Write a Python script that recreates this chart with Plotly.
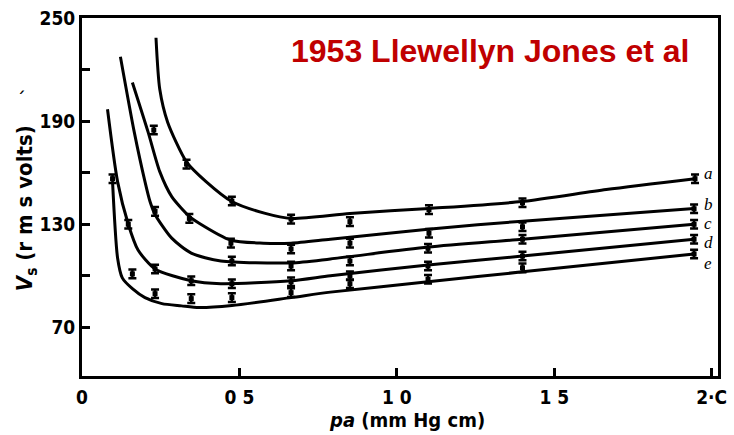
import plotly.graph_objects as go

# ---- data ----
curve_names = ["a", "b", "c", "d", "e"]

a_x = [0.235, 0.247, 0.272, 0.332, 0.394, 0.476, 0.582, 0.664, 0.851, 1.102, 1.396, 1.665, 1.947]
a_v = [238.5, 208.5, 189.4, 166.3, 154.8, 143.2, 136.3, 133.4, 136.3, 139.2, 143.2, 150.2, 156.5]

b_x = [0.160, 0.210, 0.247, 0.285, 0.341, 0.372, 0.473, 0.576, 0.664, 0.789, 1.099, 1.399, 1.944]
b_v = [212.5, 183.6, 160.6, 146.1, 134.6, 130.6, 120.7, 119.0, 119.0, 121.3, 127.1, 131.8, 139.2]

c_x = [0.122, 0.166, 0.200, 0.216, 0.232, 0.285, 0.347, 0.441, 0.664, 0.789, 1.099, 1.399, 1.944]
c_v = [227.5, 183.6, 154.8, 143.2, 135.7, 121.9, 113.2, 108.6, 107.5, 109.8, 116.7, 121.3, 130.0]

d_x = [0.081, 0.113, 0.147, 0.178, 0.232, 0.347, 0.441, 0.664, 0.789, 1.099, 1.399, 1.944]
d_v = [196.9, 154.8, 130.0, 115.0, 104.0, 97.1, 95.4, 97.1, 100.0, 106.3, 111.5, 121.3]

e_x = [0.097, 0.113, 0.128, 0.160, 0.200, 0.254, 0.316, 0.372, 0.476, 0.664, 0.789, 1.099, 1.399, 1.944]
e_v = [154.8, 110.4, 98.8, 92.5, 87.3, 83.8, 82.5, 81.5, 82.7, 87.3, 90.5, 96.5, 102.3, 112.7]

# measured points with error bars
a_px = [0.228, 0.332, 0.476, 0.664, 0.851, 1.102, 1.399, 1.947]
a_pv = [184.8, 165.0, 143.5, 133.0, 131.5, 138.5, 142.5, 156.5]
b_px = [0.341, 0.473, 0.664, 0.851, 1.102, 1.399, 1.944]
b_pv = [133.4, 119.0, 115.6, 119.0, 124.8, 128.5, 139.0]
c_px = [0.232, 0.476, 0.664, 0.851, 1.099, 1.399, 1.944]
c_pv = [137.5, 108.6, 105.7, 108.6, 116.0, 121.3, 130.0]
d_px = [0.147, 0.232, 0.347, 0.476, 0.664, 0.851, 1.099, 1.399, 1.944]
d_pv = [130.0, 104.0, 97.1, 95.4, 96.5, 100.0, 105.7, 111.5, 121.3]
e_px = [0.097, 0.160, 0.232, 0.347, 0.476, 0.664, 0.851, 1.099, 1.399, 1.944]
e_pv = [156.5, 101.1, 89.6, 86.7, 87.3, 90.2, 95.4, 98.0, 104.6, 112.7]
err = 2.5

label_v = [159.4, 141.2, 130.2, 119.3, 107.2]

x_tickvals = [0, 0.5, 1.0, 1.5, 2.0]
x_ticktext = ["0", "0 5", "1 0", "1 5", "2·C"]
y_tickvals = [70, 100, 130, 160, 190, 220, 250]
y_ticktext = ["70", "", "130", "", "190", "", "250"]

curves = [(a_x, a_v), (b_x, b_v), (c_x, c_v), (d_x, d_v), (e_x, e_v)]
points = [(a_px, a_pv), (b_px, b_pv), (c_px, c_pv), (d_px, d_pv), (e_px, e_pv)]

fig = go.Figure()
for (cx, cv) in curves:
    fig.add_trace(go.Scatter(x=cx, y=cv, mode="lines",
                             line=dict(color="black", width=3, shape="spline", smoothing=0.7),
                             showlegend=False, hoverinfo="skip"))
for (px, pv) in points:
    fig.add_trace(go.Scatter(x=px, y=pv, mode="markers",
                             marker=dict(symbol="square", size=5, color="black"),
                             error_y=dict(type="constant", value=err, color="black",
                                          thickness=2.5, width=4),
                             showlegend=False, hoverinfo="skip"))

cond = "DejaVu Sans Condensed, DejaVu Sans"
tick_font = dict(family=cond, size=19, color="black", weight="bold")

fig.update_xaxes(range=[0, 2.02], tickvals=x_tickvals, ticktext=x_ticktext,
                 ticks="inside", ticklen=8, tickwidth=3, tickcolor="black",
                 showline=True, linewidth=3, linecolor="black", mirror=True,
                 showgrid=False, zeroline=False, tickfont=tick_font, ticklabelstandoff=2)
fig.update_yaxes(range=[41.7, 250], tickvals=y_tickvals, ticktext=y_ticktext,
                 ticks="inside", ticklen=8, tickwidth=3, tickcolor="black",
                 showline=True, linewidth=3, linecolor="black", mirror=True,
                 showgrid=False, zeroline=False, tickfont=tick_font, ticklabelstandoff=0)

annotations = []
for name, lv in zip(curve_names, label_v):
    annotations.append(dict(x=1.972, y=lv, xref="x", yref="y", text="<i>" + name + "</i>",
                            showarrow=False, xanchor="left", yanchor="middle", borderpad=0,
                            font=dict(family="Liberation Serif, DejaVu Serif", size=17, color="black")))
annotations.append(dict(x=(292 - 82) / 645, y=(376 - 48) / 361, xref="paper", yref="paper",
                        text="1953 Llewellyn Jones et al", showarrow=False,
                        xanchor="left", yanchor="middle",
                        font=dict(family="Liberation Sans, Arial", size=32, color="#C00000",
                                  weight="bold")))
annotations.append(dict(x=(26 - 82) / 645, y=(376 - 207) / 361, xref="paper", yref="paper",
                        text="<i>V</i><sub>s</sub> (r m s volts)", showarrow=False, textangle=-90,
                        xanchor="center", yanchor="middle",
                        font=dict(family=cond, size=22, color="black", weight="bold")))
annotations.append(dict(x=(20 - 82) / 645, y=(376 - 97) / 361, xref="paper", yref="paper",
                        text="ˊ", showarrow=False, xanchor="center", yanchor="middle",
                        font=dict(family="DejaVu Sans", size=20, color="black")))
annotations.append(dict(x=(412 - 82) / 645, y=(376 - 420) / 361, xref="paper", yref="paper",
                        text="<i>pa</i> (mm Hg cm)", showarrow=False,
                        xanchor="center", yanchor="middle",
                        font=dict(family=cond, size=20, color="black", weight="bold")))

fig.update_layout(width=734, height=435, margin=dict(l=82, r=7, t=15, b=59),
                  paper_bgcolor="white", plot_bgcolor="white", annotations=annotations)

fig.write_html("out.html")
